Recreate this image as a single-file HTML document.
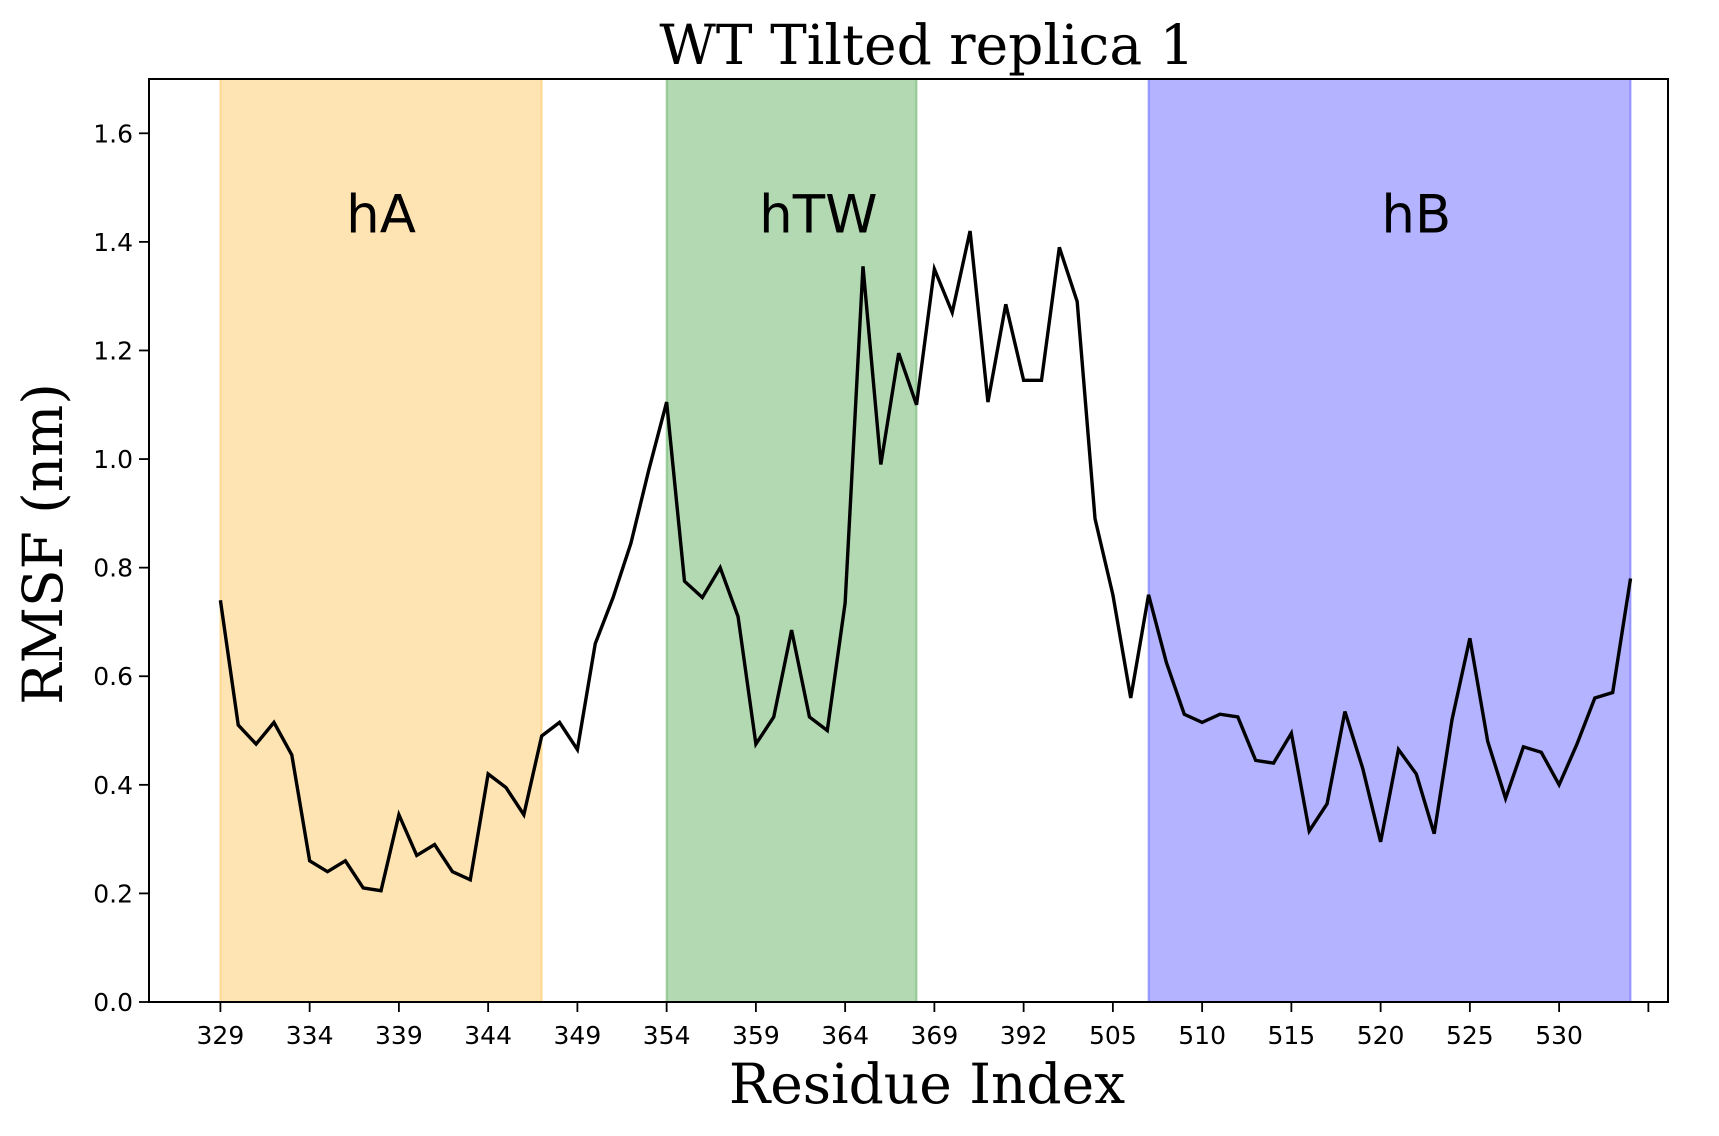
<!DOCTYPE html>
<html><head><meta charset="utf-8"><style>
html,body{margin:0;padding:0;background:#fff;}
svg{display:block;}
</style></head><body>
<svg id="chart" width="1719" height="1136" xmlns="http://www.w3.org/2000/svg">
<rect width="1719" height="1136" fill="#fff"/>
<g id="bands"></g>
<g id="plot"></g>
<g id="axes"></g>
</svg>
<script>
const rmsf = [0.74,0.51,0.475,0.515,0.455,0.26,0.24,0.26,0.21,0.205,
0.345,0.27,0.29,0.24,0.225,0.42,0.395,0.345,0.49,0.515,
0.465,0.66,0.745,0.845,0.98,1.105,0.775,0.745,0.80,0.71,
0.475,0.525,0.685,0.525,0.50,0.735,1.355,0.99,1.195,1.10,
1.35,1.27,1.42,1.105,1.285,1.145,1.145,1.39,1.29,0.89,
0.75,0.56,0.75,0.625,0.53,0.515,0.53,0.525,0.445,0.44,
0.495,0.315,0.365,0.535,0.43,0.295,0.465,0.42,0.31,0.52,
0.67,0.48,0.375,0.47,0.46,0.40,0.475,0.56,0.57,0.78];
const xTickPos = [0,5,10,15,20,25,30,35,40,45,50,55,60,65,70,75,80];
const xTickLabels = ["329","334","339","344","349","354","359","364","369","392","505","510","515","520","525","530",""];
const yTicks = [0,0.2,0.4,0.6,0.8,1.0,1.2,1.4,1.6];
const bandNames = ["hA","hTW","hB"];
const bandStart = [0,25,52];
const bandEnd = [18,39,79];
const bandLabelX = [9,33.5,67];
const bandLabelY = [1.43,1.43,1.43];

const L=149,R=1668,T=79,B=1002;
const xmin=-4.0,xmax=81.1,ymin=0,ymax=1.7;
const X=v=>L+(v-xmin)/(xmax-xmin)*(R-L);
const Y=v=>B-(v-ymin)/(ymax-ymin)*(B-T);
const NS="http://www.w3.org/2000/svg";
function mk(tag,attrs,parent){const e=document.createElementNS(NS,tag);for(const k in attrs)e.setAttribute(k,attrs[k]);parent.appendChild(e);return e;}

const fills=["rgb(255,228,179)","rgb(179,217,179)","rgb(179,179,255)"];
const edges=["rgba(255,165,0,0.3)","rgba(0,128,0,0.3)","rgba(0,0,255,0.3)"];
const bands=document.getElementById('bands');
for(let i=0;i<bandNames.length;i++){
  const r=mk('rect',{x:X(bandStart[i]),y:T,width:X(bandEnd[i])-X(bandStart[i]),height:B-T,fill:fills[i],stroke:edges[i],'stroke-width':2},bands);
  
  
  const t=mk('text',{x:X(bandLabelX[i]),y:Y(bandLabelY[i])+7,'text-anchor':'middle','font-family':'"DejaVu Sans","Liberation Sans",sans-serif','font-size':53,fill:'#000'},bands);
  t.textContent=bandNames[i];
  
  
}
const plot=document.getElementById('plot');
const pts=rmsf.map((v,i)=>X(i).toFixed(2)+','+Y(v).toFixed(2)).join(' ');
const line=mk('polyline',{points:pts,fill:'none',stroke:'#000','stroke-width':3.4,'stroke-linejoin':'miter'},plot);



const axes=document.getElementById('axes');
const frame=mk('rect',{x:L,y:T,width:R-L,height:B-T,fill:'none',stroke:'#000','stroke-width':2},axes);


const tf='"DejaVu Sans","Liberation Sans",sans-serif';
for(let i=0;i<xTickPos.length;i++){
  const x=X(xTickPos[i]);
  const tk=mk('line',{x1:x,x2:x,y1:B,y2:B+10,stroke:'#000','stroke-width':1.8},axes);
  
  
  const t=mk('text',{x:x,y:B+42,'text-anchor':'middle','font-family':tf,'font-size':25,fill:'#000'},axes);
  t.textContent=xTickLabels[i];
  
  
}
for(const v of yTicks){
  const y=Y(v);
  const tk=mk('line',{x1:L-10,x2:L,y1:y,y2:y,stroke:'#000','stroke-width':1.8},axes);
  
  
  const t=mk('text',{x:L-16,y:y+9,'text-anchor':'end','font-family':tf,'font-size':25,fill:'#000'},axes);
  t.textContent=v.toFixed(1);
  
  
}
const sf='"DejaVu Serif","Liberation Serif",serif';
const title=mk('text',{x:927,y:64,'text-anchor':'middle','font-family':sf,'font-size':55,fill:'#000'},axes);
title.textContent='WT Tilted replica 1';


const xl=mk('text',{x:927,y:1103,'text-anchor':'middle','font-family':sf,'font-size':55,fill:'#000'},axes);
xl.textContent='Residue Index';


const yl=mk('text',{x:0,y:0,'text-anchor':'middle','font-family':sf,'font-size':55,fill:'#000',transform:'translate(62,544) rotate(-90)'},axes);
yl.textContent='RMSF (nm)';


</script>
</body></html>
